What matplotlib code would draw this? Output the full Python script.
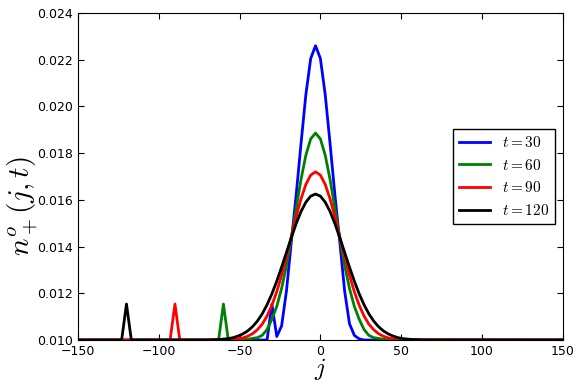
import matplotlib
matplotlib.use('Agg')
import matplotlib.pyplot as plt

plt.rcParams['mathtext.fontset'] = 'cm'
plt.rcParams['xtick.direction'] = 'in'
plt.rcParams['ytick.direction'] = 'in'
plt.rcParams['xtick.top'] = True
plt.rcParams['ytick.right'] = True

# values
j_30 = [-150, -33, -30, -27, -24, -21, -18, -15, -12, -9, -6, -3, 0, 3, 6, 9,
        12, 15, 18, 21, 24, 27, 150]
n_30 = [0.0100, 0.0100, 0.01154, 0.01015, 0.0106, 0.0121, 0.0142, 0.0162, 0.0184,
        0.0205, 0.02205, 0.0226, 0.02205, 0.0205, 0.0184, 0.0162, 0.0142, 0.0121,
        0.0107, 0.0102, 0.01005, 0.0100, 0.0100]

j_60 = [-150, -63, -60, -57, -48, -45, -42, -39, -36, -33, -30, -27, -24, -21,
        -18, -15, -12, -9, -6, -3, 0, 3, 6, 9, 12, 15, 18, 21, 24, 27, 30, 33,
        36, 39, 42, 150]
n_60 = [0.0100, 0.0100, 0.01154, 0.0100, 0.01001, 0.01003, 0.01007, 0.0101,
        0.0102, 0.01045, 0.01089, 0.01144, 0.01221, 0.01319, 0.01436, 0.01563,
        0.01687, 0.01791, 0.01861, 0.01886, 0.01861, 0.01791, 0.01687, 0.01563,
        0.01436, 0.01319, 0.01221, 0.01144, 0.01089, 0.01045, 0.0102, 0.0101,
        0.01007, 0.01003, 0.01001, 0.0100]

j_90 = [-150, -93, -90, -87, -57, -54, -51, -48, -45, -42, -39, -36, -33, -30,
        -27, -24, -21, -18, -15, -12, -9, -6, -3, 0, 3, 6, 9, 12, 15, 18, 21,
        24, 27, 30, 33, 36, 39, 42, 45, 48, 51, 150]
n_90 = [0.0100, 0.0100, 0.01154, 0.0100, 0.01001, 0.01002, 0.01005, 0.01009,
        0.01016, 0.01027, 0.01044, 0.01068, 0.01103, 0.01149, 0.01207, 0.01277,
        0.01357, 0.01442, 0.01527, 0.01604, 0.01666, 0.01706, 0.0172, 0.01706,
        0.01666, 0.01604, 0.01527, 0.01442, 0.01357, 0.01277, 0.01207, 0.01149,
        0.01103, 0.01068, 0.01044, 0.01027, 0.01016, 0.01009, 0.01005, 0.01002,
        0.01001, 0.0100]

j_120 = [-150, -123, -120, -117, -69, -66, -63, -60, -57, -54, -51, -48, -45,
         -42, -39, -36, -33, -30, -27, -24, -21, -18, -15, -12, -9, -6, -3, 0,
         3, 6, 9, 12, 15, 18, 21, 24, 27, 30, 33, 36, 39, 42, 45, 48, 51, 54,
         57, 60, 63, 150]
n_120 = [0.0100, 0.0100, 0.01154, 0.0100, 0.0100, 0.01001, 0.01002, 0.01004,
         0.01006, 0.0101, 0.01017, 0.01026, 0.01039, 0.01057, 0.01081, 0.01112,
         0.01151, 0.01198, 0.01252, 0.01312, 0.01375, 0.01438, 0.01498, 0.0155,
         0.0159, 0.01616, 0.01625, 0.01616, 0.0159, 0.0155, 0.01498, 0.01438,
         0.01375, 0.01312, 0.01252, 0.01198, 0.01151, 0.01112, 0.01081, 0.01057,
         0.01039, 0.01026, 0.01017, 0.0101, 0.01006, 0.01004, 0.01002, 0.01001,
         0.0100, 0.0100]

labels = ['$t=30$', '$t=60$', '$t=90$', '$t=120$']
x_ticks = [-150, -100, -50, 0, 50, 100, 150]
y_ticks = [0.010, 0.012, 0.014, 0.016, 0.018, 0.020, 0.022, 0.024]

fig = plt.figure(figsize=(5.82, 3.87), dpi=100)
ax = fig.add_axes([0.134, 0.1214, 0.833, 0.845])

ax.plot(j_30, n_30, color='#0000ff', lw=2, label=labels[0])
ax.plot(j_60, n_60, color='#008000', lw=2, label=labels[1])
ax.plot(j_90, n_90, color='#ff0000', lw=2, label=labels[2])
ax.plot(j_120, n_120, color='black', lw=2, label=labels[3])

ax.set_xlim(-150, 150)
ax.set_ylim(0.010, 0.024)
ax.set_xticks(x_ticks)
ax.set_yticks(y_ticks)
ax.set_yticklabels(['%.3f' % v for v in y_ticks])
ax.tick_params(labelsize=9, length=4)

ax.set_xlabel('$j$', fontsize=18)
ax.xaxis.set_label_coords(0.5, -0.05)
ax.set_ylabel('$n^o_+(j,t)$', fontsize=21)
ax.yaxis.set_label_coords(-0.078, 0.41)

leg = ax.legend(loc='center right', fontsize=11, fancybox=False, framealpha=1)
leg.get_frame().set_edgecolor('black')

fig.savefig('out.png', dpi=100)
